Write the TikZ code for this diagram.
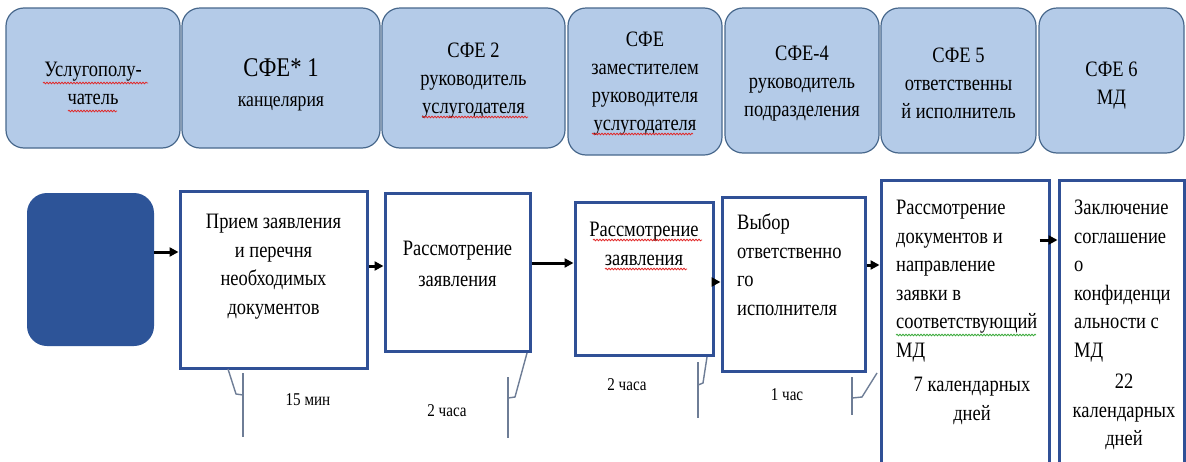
\documentclass[tikz,border=0pt]{standalone}
\usepackage{fontspec}
\setmainfont{Liberation Serif}[FakeStretch=0.84]
\usetikzlibrary{arrows.meta,decorations.pathmorphing}
\definecolor{hdrfill}{RGB}{180,203,232}
\definecolor{hdrline}{RGB}{72,104,140}
\definecolor{boxline}{RGB}{48,80,150}
\definecolor{darkfill}{RGB}{45,84,152}
\definecolor{callline}{RGB}{110,125,150}
\definecolor{spellred}{RGB}{225,40,40}
\definecolor{spellgreen}{RGB}{60,170,60}
\newcommand\bodyfont{\fontsize{22}{28.5}\selectfont}
\newcommand\hdrfont{\fontsize{22}{28}\selectfont}
\newcommand\timefont{\fontsize{18}{22}\selectfont}
\begin{document}
\begin{tikzpicture}[x=1pt,y=-1pt,
  hdr/.style={draw=hdrline, fill=hdrfill, line width=1.2pt, rounded corners=18pt, inner sep=0pt},
  hdrtxt/.style={inner sep=0pt, align=center, font=\hdrfont},
  stepbox/.style={draw=boxline, line width=3pt, inner sep=0pt},
  txt/.style={inner sep=0pt, font=\bodyfont},
  arr/.style={-{Triangle[length=9pt,width=9pt]}, line width=3pt, black},
  callout/.style={draw=callline, line width=1.4pt},
  tlabel/.style={inner sep=0pt, font=\timefont},
  spell/.style={decorate, decoration={snake, segment length=3pt, amplitude=0.8pt}, line width=0.8pt}
]
\clip (0,0) rectangle (1186,461);
\fill[white] (0,0) rectangle (1186,461);

% header row
\node[hdr, minimum width=174pt, minimum height=140pt] (h1) at (93,78) {};
\node[hdr, minimum width=198pt, minimum height=140pt] (h2) at (281,78) {};
\node[hdr, minimum width=183pt, minimum height=140pt] (h3) at (473.5,78) {};
\node[hdr, minimum width=154pt, minimum height=147pt] (h4) at (645,81.5) {};
\node[hdr, minimum width=154pt, minimum height=145pt] (h5) at (802,80.5) {};
\node[hdr, minimum width=155pt, minimum height=145pt] (h6) at (958.5,80.5) {};
\node[hdr, minimum width=145pt, minimum height=145pt] (h7) at (1111.5,80.5) {};
\node[hdrtxt] (th1) at ([yshift=-5pt]h1.center) {Услугополу-\\чатель};
\node[hdrtxt] (th2) at ([yshift=-7pt]h2.center) {{\fontsize{27}{30}\selectfont СФЕ* 1}\\[2pt]{\fontsize{21}{26}\selectfont канцелярия}};
\node[hdrtxt] (th3) at ([yshift=-3pt]h3.center) {СФЕ 2\\руководитель\\услугодателя};
\node[hdrtxt] (th4) at ([yshift=-2pt]h4.center) {СФЕ\\заместителем\\руководителя\\услугодателя};
\node[hdrtxt] (th5) at ([yshift=-3pt]h5.center) {СФЕ-4\\руководитель\\подразделения};
\node[hdrtxt] (th6) at ([yshift=-3pt]h6.center) {СФЕ 5\\ответственны\\й исполнитель};
\node[hdrtxt] (th7) at ([yshift=-5pt]h7.center) {СФЕ 6\\МД};

% process row
\node[fill=darkfill, rounded corners=20pt, minimum width=127pt, minimum height=153pt, inner sep=0pt] (start) at (90.5,269.5) {};
\node[stepbox, minimum width=187pt, minimum height=177pt] (A) at (273.5,279.5) {};
\node[stepbox, minimum width=145pt, minimum height=158pt] (B) at (457.5,272) {};
\node[stepbox, minimum width=138pt, minimum height=153pt] (C) at (644,278.5) {};
\node[stepbox, minimum width=143pt, minimum height=174pt] (D) at (793.5,284) {};
\node[stepbox, minimum width=168pt, minimum height=295pt] (E) at (965,327.5) {};
\node[stepbox, minimum width=125pt, minimum height=295pt] (F) at (1121.5,327.5) {};

\node[txt, anchor=north, align=center] (tA) at (273.5,214) {Прием заявления\\и перечня\\необходимых\\документов};
\node[txt, anchor=north, align=center] (tB) at (457.5,241) {Рассмотрение\\[2.5pt]заявления};
\node[txt, anchor=north, align=center] (tC) at (644,222) {Рассмотрение\\заявления};
\node[txt, anchor=north west, align=left] (tD) at (737,214) {Выбор\\ответственно\\го\\исполнителя};
\node[txt, anchor=north west, align=left] (tE) at (896,200) {Рассмотрение\\документов и\\направление\\заявки в\\соответствующий\\МД};
\node[txt, anchor=north, align=center] (tE2) at (972,377) {7 календарных\\дней};
\node[txt, anchor=north west, align=left] (tF) at (1074,200) {Заключение\\соглашение\\о\\конфиденци\\альности с\\МД};
\node[txt, anchor=north, align=center] (tF2) at (1124,374) {22\\календарных\\дней};

% arrows
\coordinate (a1) at (0,252);
\coordinate (a2) at (0,266);
\coordinate (a3) at (0,263);
\coordinate (a4) at (0,282);
\coordinate (a5) at (0,265);
\coordinate (a6) at (0,240);
\draw[arr] (start.east |- a1) -- (A.west |- a1);
\draw[arr] (A.east |- a2) -- (B.west |- a2);
\draw[arr] (B.east |- a3) -- (C.west |- a3);
\draw[arr] (C.east |- a4) -- (D.west |- a4);
\draw[arr] (D.east |- a5) -- (E.west |- a5);
\draw[arr] ([xshift=-11pt]E.east |- a6) -- (F.west |- a6);

% time callouts
\draw[callout] (228,369) -- (236,394) -- (243,395);
\draw[callout] (243,373) -- (243,437);
\node[tlabel] (l1) at (308,400) {15 мин};
\draw[callout] (508,398) -- (515,397) -- (527,353);
\draw[callout] (508,377) -- (508,438);
\node[tlabel] (l2) at (447,411) {2 часа};
\draw[callout] (698,385) -- (703,383) -- (707,357);
\draw[callout] (698,362) -- (698,418);
\node[tlabel] (l3) at (627,385) {2 часа};
\draw[callout] (852,398) -- (862,397) -- (877,373);
\draw[callout] (852,377) -- (852,415);
\node[tlabel] (l4) at (787,395) {1 час};

% spell-check underlines
\draw[spell, spellred] (43,83) -- (148,83);
\draw[spell, spellred] (68,111) -- (117,111);
\draw[spell, spellred] (422,117) -- (528,117);
\draw[spell, spellred] (592,134) -- (693,134);
\draw[spell, spellred] (593,240) -- (702,240);
\draw[spell, spellred] (605,269) -- (687,269);
\draw[spell, spellgreen] (896,335) -- (1036,335);
\end{tikzpicture}
\end{document}
